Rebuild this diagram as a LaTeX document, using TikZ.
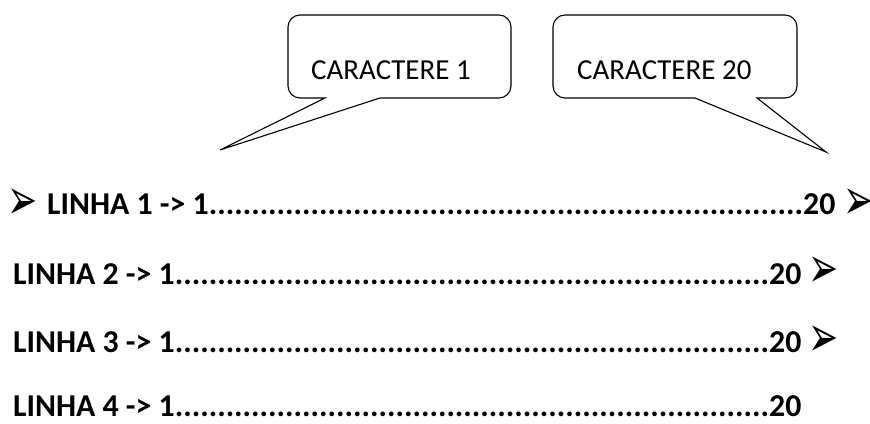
\documentclass[tikz,border=0pt]{standalone}
\usepackage{fontspec}
\usepackage{graphicx}
\setmainfont{Carlito}
\newfontfamily\dejavu{DejaVu Sans}
\newcommand{\arrbul}{\scalebox{1}[1.6]{➢}}
\begin{document}
\begin{tikzpicture}[x=1pt,y=1pt,
  callout/.style={draw=black,line width=1.1pt,line join=miter},
  ctext/.style={anchor=base west,inner sep=0pt,font=\fontsize{29}{30}\selectfont},
  ltext/.style={anchor=base west,inner sep=0pt,font=\fontsize{31.8}{33}\selectfont\bfseries},
  bullet/.style={anchor=center,inner ysep=0pt,inner xsep=-4pt,font=\fontsize{36}{38}\selectfont\dejavu}]
\useasboundingbox (0,0) rectangle (870,423);
% callout 1
\draw[callout] (325,325) -- (220,273) -- (380,325) -- (499,325)
  arc[start angle=-90,end angle=0,radius=12] -- (511,396)
  arc[start angle=0,end angle=90,radius=12] -- (300,408)
  arc[start angle=90,end angle=180,radius=12] -- (288,337)
  arc[start angle=180,end angle=270,radius=12] -- cycle;
\node[ctext] (c1) at (311,343) {CARACTERE 1};
% callout 2
\draw[callout] (695,325) -- (826,271) -- (757,325) -- (785,325)
  arc[start angle=-90,end angle=0,radius=12] -- (797,396)
  arc[start angle=0,end angle=90,radius=12] -- (565,408)
  arc[start angle=90,end angle=180,radius=12] -- (553,337)
  arc[start angle=180,end angle=270,radius=12] -- cycle;
\node[ctext] (c2) at (577,343) {CARACTERE 20};
% lines
\node[bullet] (b1) at (23,219) {\arrbul};
\node[ltext] (l1) at (47,208) {LINHA 1 -> 1......................................................................20};
\node[bullet] (b1e) at (859,219) {\arrbul};
\node[ltext] (l2) at (13,138) {LINHA 2 -> 1......................................................................20};
\node[bullet] (b2e) at (824,151) {\arrbul};
\node[ltext] (l3) at (13,70) {LINHA 3 -> 1......................................................................20};
\node[bullet] (b3e) at (824,82) {\arrbul};
\node[ltext] (l4) at (13,7) {LINHA 4 -> 1......................................................................20};
\end{tikzpicture}
\end{document}
